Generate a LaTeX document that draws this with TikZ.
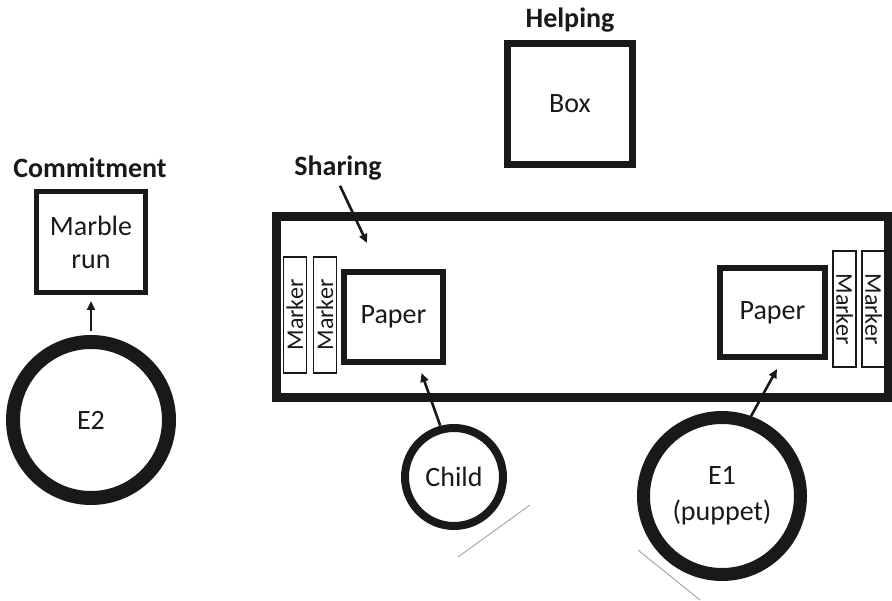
\documentclass[tikz,border=0pt]{standalone}
\usepackage{fontspec}
\setmainfont{Carlito}
\usetikzlibrary{arrows.meta,positioning}

\begin{document}
\begin{tikzpicture}[x=1pt, y=-1pt,
    box/.style={rectangle, draw=black!90, line width=7pt, inner sep=0pt, text=black!90, font=\fontsize{28}{33}\selectfont, align=center},
    frame/.style={rectangle, draw=black!90, line width=9pt, inner sep=0pt},
    marker/.style={rectangle, draw=black!90, line width=1.3pt, inner sep=0pt, minimum width=116pt, minimum height=23pt, text=black!90, font=\fontsize{24}{24}\selectfont},
    ring/.style={circle, draw=black!90, inner sep=0pt, text=black!90, font=\fontsize{28}{36}\selectfont, align=center},
    head/.style={font=\fontsize{28}{30}\selectfont\bfseries, text=black!90},
    arr/.style={-{Triangle[length=9pt, width=8pt]}, line width=2.6pt, black!90},
    trace/.style={gray!80, line width=0.8pt}
]
    \useasboundingbox (0,0) rectangle (892,601);

    % helping
    \node[box, minimum width=125pt, minimum height=121pt] (box) at (570,104) {Box};
    \node[head] (helping) at (570,20) {Helping};

    % commitment
    \node[box, line width=5pt, minimum width=109pt, minimum height=101pt] (marble) at (91,242) {Marble\\run};
    \node[head] (commit) at (90,168) {Commitment};
    \node[ring, line width=14pt, minimum size=156pt] (e2) at (91,420) {E2};
    \draw[arr] ([yshift=4pt]e2.north) -- ([yshift=-6pt]marble.south);

    % sharing
    \node[frame, minimum width=612pt, minimum height=181pt] (table) at (582.5,307) {};
    \node[head] (sharing) at (338,168) {Sharing};
    \coordinate (tablein) at (367,243);
    \draw[arr] ([xshift=2pt, yshift=-2pt]sharing.south) -- (tablein);

    \node[marker, rotate=90] (mk1) at (295,315) {Marker};
    \node[marker, rotate=90] (mk2) at (325,315) {Marker};
    \node[box, line width=6pt, minimum width=99pt, minimum height=90pt] (lpaper) at (393.5,317) {Paper};

    \node[box, line width=6pt, minimum width=105pt, minimum height=89pt] (rpaper) at (772.5,312.5) {Paper};
    \node[marker, rotate=-90] (mk3) at (844.5,309) {Marker};
    \node[marker, rotate=-90] (mk4) at (873.5,309) {Marker};

    \node[ring, line width=8pt, minimum size=98pt] (child) at (454,477) {Child};
    \node[ring, line width=13pt, minimum size=157pt] (e1) at (722,496) {E1\\(puppet)};
    \draw[arr] (child.105) -- ([xshift=28pt, yshift=-8pt]lpaper.south);
    \draw[arr] (e1.70) -- ([xshift=4.5pt, yshift=-9pt]rpaper.south);

    % traces
    \coordinate (c1) at (458,557);
    \coordinate (c2) at (530,505);
    \coordinate (p1) at (638,550);
    \coordinate (p2) at (700,600);
    \draw[trace] (c1) -- (c2);
    \draw[trace] (p1) -- (p2);
\end{tikzpicture}
\end{document}
